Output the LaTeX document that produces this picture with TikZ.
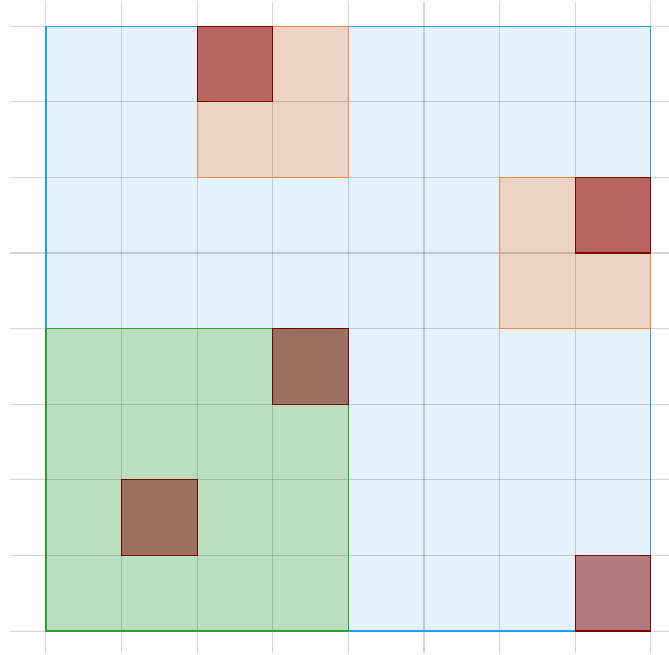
\documentclass[tikz,border=0pt]{standalone}
\definecolor{bfill}{RGB}{228,242,253}
\definecolor{bline}{RGB}{30,160,240}
\definecolor{gfill}{RGB}{186,223,191}
\definecolor{gline}{RGB}{44,160,44}
\definecolor{ofill}{RGB}{235,210,194}
\definecolor{oline}{RGB}{240,138,75}
\definecolor{rfillA}{RGB}{182,102,94}
\definecolor{rfillB}{RGB}{156,112,96}
\definecolor{rfillC}{RGB}{178,122,126}
\definecolor{rline}{RGB}{122,0,0}
\begin{document}
\begin{tikzpicture}[x=1cm,y=1cm,
  gridline/.style={draw=black, draw opacity=0.16, line width=0.4pt},
  edge/.style={line width=0.45pt},
  redA/.style={edge, fill=rfillA, draw=rline},
  redB/.style={edge, fill=rfillB, draw=rline},
  redC/.style={edge, fill=rfillC, draw=rline}]
\useasboundingbox (-0.608,-0.317) rectangle (8.241,8.347);
% fills
\fill[bfill] (0,0) rectangle (8,8);
\fill[gfill] (0,0) rectangle (4,4);
\fill[ofill] (2,6) rectangle (4,8);
\fill[ofill] (6,4) rectangle (8,6);
% grid
\foreach \i in {0,...,8} {
  \draw[gridline] (\i,-0.29) -- (\i,8.32);
  \draw[gridline] (-0.476,\i) -- (8.241,\i);
}
% borders
\draw[edge, draw=bline] (0,0) rectangle (8,8);
\draw[edge, draw=gline] (0,0) rectangle (4,4);
\draw[edge, draw=oline] (2,6) rectangle (4,8);
\draw[edge, draw=oline] (6,4) rectangle (8,6);
% dark squares
\draw[redA] (2,7) rectangle (3,8);
\draw[redA] (7,5) rectangle (8,6);
\draw[redB] (3,3) rectangle (4,4);
\draw[redB] (1,1) rectangle (2,2);
\draw[redC] (7,0) rectangle (8,1);
\end{tikzpicture}
\end{document}
